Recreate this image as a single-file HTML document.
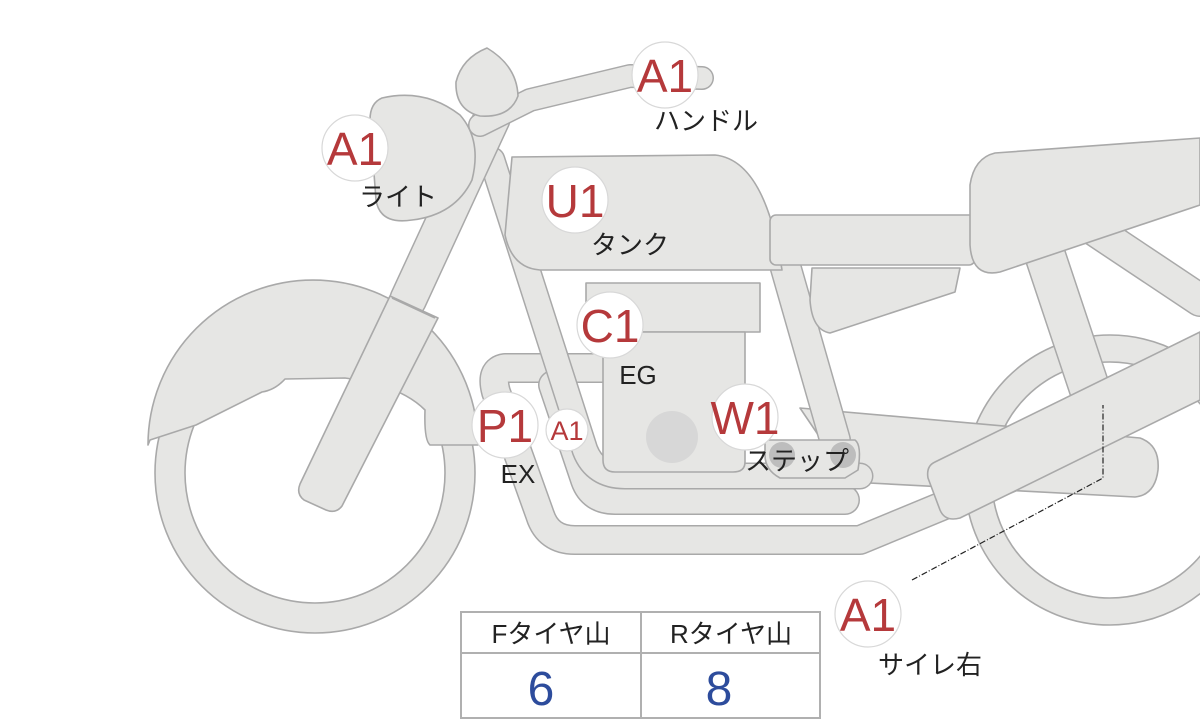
<!DOCTYPE html>
<html><head><meta charset="utf-8"><style>
html,body{margin:0;padding:0;background:#fff;width:1200px;height:720px;overflow:hidden}
svg{display:block}
.s{fill:#e6e6e4;stroke:#a9a9a9;stroke-width:1.6;stroke-linejoin:round}
.to{fill:none;stroke:#a9a9a9;stroke-linecap:round;stroke-linejoin:round}
.ti{fill:none;stroke:#e6e6e4;stroke-linecap:round;stroke-linejoin:round}
.c{fill:#fff;stroke:#d8d8d8;stroke-width:1.2}
.r{fill:#b5393b;font-family:"Liberation Sans",sans-serif;text-anchor:middle}
.k{fill:#222;font-family:"Liberation Sans","Noto Sans CJK JP",sans-serif;font-size:26px;text-anchor:middle}
</style></head><body>
<svg width="1200" height="720" viewBox="0 0 1200 720">
<path class="s" fill-rule="evenodd" d="M965 480a145 145 0 1 0 290 0a145 145 0 1 0 -290 0Z M992 480a118 118 0 1 0 236 0a118 118 0 1 0 -236 0Z"/>
<path class="to" stroke-width="42" stroke-linecap="butt" d="M1045 255 L1100 420"/>
<path class="ti" stroke-width="39" stroke-linecap="butt" d="M1045 255 L1100 420"/>
<path class="to" stroke-width="34" stroke-linecap="butt" d="M1095 230 L1200 300"/>
<path class="ti" stroke-width="31" stroke-linecap="butt" d="M1095 230 L1200 300"/>
<path class="s" d="M800 408 L1140 438 Q1160 445 1158 470 Q1155 495 1135 497 L850 482 Z"/>
<path class="to" stroke-width="32" stroke-linecap="butt" d="M785 265 L835 440"/>
<path class="ti" stroke-width="29" stroke-linecap="butt" d="M785 265 L835 440"/>
<path class="to" stroke-width="30" d="M620 368 L505 368 Q490 370 496 392 L540 515 Q548 540 575 540 L860 540 L1010 478"/>
<path class="ti" stroke-width="27" d="M620 368 L505 368 Q490 370 496 392 L540 515 Q548 540 575 540 L860 540 L1010 478"/>
<path class="to" stroke-width="30" d="M553 385 L585 480 Q592 500 615 500 L845 500"/>
<path class="ti" stroke-width="27" d="M553 385 L585 480 Q592 500 615 500 L845 500"/>
<path class="s" d="M935 462 L1200 332 L1200 400 L960 518 Q945 522 940 510 L928 478 Q926 466 935 462 Z"/>
<path class="s" fill-rule="evenodd" d="M155 473a160 160 0 1 0 320 0a160 160 0 1 0 -320 0Z M185 473a130 130 0 1 0 260 0a130 130 0 1 0 -260 0Z"/>
<path class="s" d="M148 445 A165 165 0 0 1 478 445 L430 445 Q424 440 425 410 Q400 385 345 378 L285 379 Q275 390 262 392 L196 425 L150 440 Z"/>
<path class="to" stroke-width="27" d="M492 160 L585 450 Q595 476 625 476 L860 476"/>
<path class="ti" stroke-width="24" d="M492 160 L585 450 Q595 476 625 476 L860 476"/>
<rect class="s" x="586" y="283" width="174" height="49"/>
<path class="s" d="M603 332 L745 332 L745 462 Q745 472 733 472 L615 472 Q603 472 603 460 Z"/>
<circle cx="672" cy="437" r="26" fill="#d7d7d7"/>
<path class="s" d="M765 440 L855 440 Q862 445 858 470 L845 478 L780 478 Q765 470 765 455 Z"/>
<circle cx="782" cy="455" r="13" fill="#bdbdbd"/>
<circle cx="843" cy="455" r="13" fill="#bdbdbd"/>
<path class="s" d="M512 157 L715 155 Q765 160 782 270 L540 270 Q512 268 505 235 Z"/>
<path class="s" d="M812 268 L960 268 L955 292 L830 333 Q812 330 810 300 Z"/>
<rect class="s" x="770" y="215" width="205" height="50" rx="6"/>
<path class="s" d="M995 153 L1200 138 L1200 205 L1000 272 Q972 278 970 245 L970 185 Q974 158 995 153 Z"/>
<path class="to" stroke-width="38" stroke-linecap="butt" d="M408 300 L492 118"/>
<path class="ti" stroke-width="35" stroke-linecap="butt" d="M408 300 L492 118"/>
<path class="s" d="M390 296 L438 318 L342 506 Q336 514 326 510 L304 500 Q296 494 300 484 Z"/>
<line x1="392" y1="298" x2="435" y2="318" stroke="#a9a9a9" stroke-width="1.6"/>
<path class="s" d="M382 98 Q425 88 460 115 Q482 140 472 180 Q455 215 412 220 Q380 225 376 200 L370 120 Q370 103 382 98 Z"/>
<path class="to" stroke-width="24" d="M480 125 L530 100 L630 76 L702 78"/>
<path class="ti" stroke-width="21" d="M480 125 L530 100 L630 76 L702 78"/>
<path class="s" d="M487 48 Q462 58 456 82 Q455 110 480 116 Q510 118 518 96 Q517 66 487 48 Z"/>
<path d="M912 580 L1103 478 L1103 405" fill="none" stroke="#222" stroke-width="1.2" stroke-dasharray="6 2 1 2"/>
<circle class="c" cx="665" cy="75" r="33"/><text class="r" x="665" y="92" font-size="46">A1</text>
<text class="k" x="706" y="130">ハンドル</text>
<circle class="c" cx="355" cy="148" r="33"/><text class="r" x="355" y="165" font-size="46">A1</text>
<text class="k" x="398" y="206">ライト</text>
<circle class="c" cx="575" cy="200" r="33"/><text class="r" x="575" y="217" font-size="46">U1</text>
<text class="k" x="630" y="254">タンク</text>
<circle class="c" cx="610" cy="325" r="33"/><text class="r" x="610" y="342" font-size="46">C1</text>
<text class="k" x="638" y="384" font-size="24">EG</text>
<circle class="c" cx="505" cy="425" r="33"/><text class="r" x="505" y="442" font-size="46">P1</text>
<text class="k" x="518" y="483" font-size="24">EX</text>
<circle class="c" cx="567" cy="430" r="21"/><text class="r" x="567" y="440" font-size="27">A1</text>
<circle class="c" cx="745" cy="417" r="33"/><text class="r" x="745" y="434" font-size="46">W1</text>
<text class="k" x="797" y="470">ステップ</text>
<circle class="c" cx="868" cy="614" r="33"/><text class="r" x="868" y="631" font-size="46">A1</text>
<text class="k" x="930" y="674">サイレ右</text>
<rect x="461" y="612" width="359" height="106" fill="#fff" stroke="#b0b0b0" stroke-width="2"/>
<line x1="461" y1="653" x2="820" y2="653" stroke="#b0b0b0" stroke-width="2"/>
<line x1="641" y1="612" x2="641" y2="718" stroke="#b0b0b0" stroke-width="2"/>
<text class="k" x="551" y="643" font-size="25">Fタイヤ山</text>
<text class="k" x="731" y="643" font-size="25">Rタイヤ山</text>
<text x="541" y="705" font-family="Liberation Sans,sans-serif" font-size="48" fill="#2d4c9c" text-anchor="middle">6</text>
<text x="719" y="705" font-family="Liberation Sans,sans-serif" font-size="48" fill="#2d4c9c" text-anchor="middle">8</text>
</svg>
</body></html>
